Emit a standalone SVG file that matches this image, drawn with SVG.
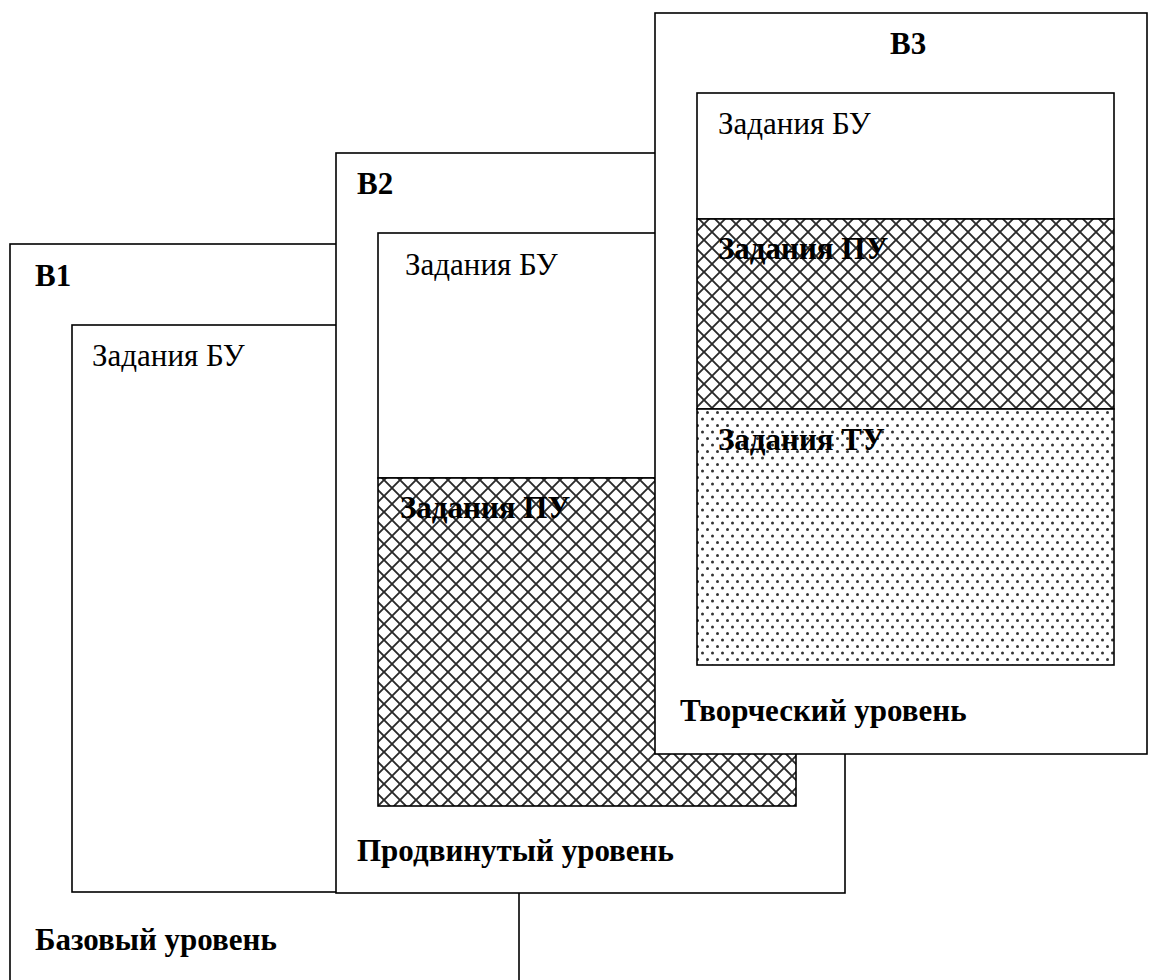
<svg xmlns="http://www.w3.org/2000/svg" width="1153" height="980" viewBox="0 0 1153 980">
  <style>
    .frame { fill: #ffffff; stroke: #000000; stroke-width: 1.6; }
    .box { fill: #ffffff; stroke: #000000; stroke-width: 1.6; }
    .hatch { fill: url(#cross); stroke: #000000; stroke-width: 1.6; }
    .dots { fill: url(#dotgrid); stroke: #000000; stroke-width: 1.6; }
    .t { font-family: "Liberation Serif", "Times New Roman", serif; font-size: 31px; fill: #000000; }
    .b { font-weight: bold; }
  </style>
  <defs>
    <!-- diagonal cross-hatch for the advanced-level block -->
    <pattern id="cross" patternUnits="userSpaceOnUse" width="16" height="16">
      <rect width="16" height="16" fill="#ffffff"/>
      <path d="M-1,-1 L17,17 M17,-1 L-1,17" stroke="#2a2a2a" stroke-width="1.9"/>
    </pattern>
    <!-- staggered dot grid for the creative-level block -->
    <pattern id="dotgrid" patternUnits="userSpaceOnUse" width="10" height="13">
      <rect width="10" height="13" fill="#ffffff"/>
      <circle cx="2.5" cy="3" r="1.5" fill="#333333"/>
      <circle cx="7.5" cy="9.5" r="1.5" fill="#333333"/>
    </pattern>
  </defs>

  <!-- Variant 1: base level -->
  <g id="v1">
    <rect class="frame" x="10" y="244" width="509" height="760"/>
    <rect class="box" x="72" y="325" width="420" height="567"/>
    <text class="t b" x="35" y="286">В1</text>
    <text class="t" x="92" y="366">Задания БУ</text>
    <text class="t b" x="35" y="950">Базовый уровень</text>
  </g>

  <!-- Variant 2: advanced level -->
  <g id="v2">
    <rect class="frame" x="336" y="153" width="509" height="740"/>
    <rect class="box" x="378" y="233" width="418" height="245"/>
    <rect class="hatch" x="378" y="478" width="418" height="328"/>
    <text class="t b" x="357" y="194">В2</text>
    <text class="t" x="405" y="275">Задания БУ</text>
    <text class="t b" x="400" y="518">Задания ПУ</text>
    <text class="t b" x="357" y="861">Продвинутый уровень</text>
  </g>

  <!-- Variant 3: creative level -->
  <g id="v3">
    <rect class="frame" x="655" y="13" width="492" height="741"/>
    <rect class="box" x="697" y="93" width="417" height="126"/>
    <rect class="hatch" x="697" y="219" width="417" height="190"/>
    <rect class="dots" x="697" y="409" width="417" height="256"/>
    <text class="t b" x="890" y="54">В3</text>
    <text class="t" x="718" y="134">Задания БУ</text>
    <text class="t b" x="718" y="259">Задания ПУ</text>
    <text class="t b" x="718" y="450">Задания ТУ</text>
    <text class="t b" x="680" y="721">Творческий уровень</text>
  </g>

  <g id="connectors"/>
</svg>
